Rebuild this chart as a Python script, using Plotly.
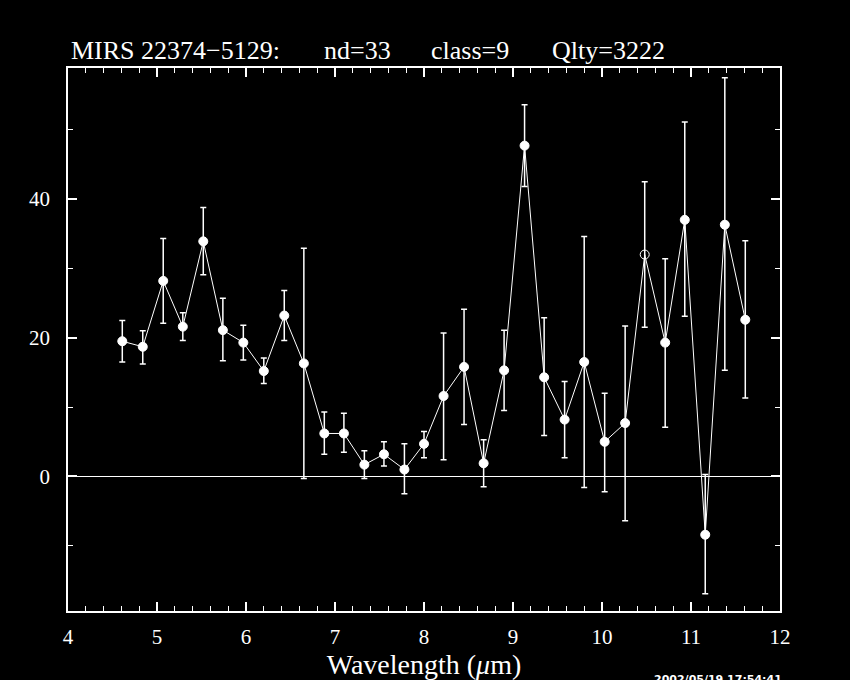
import plotly.graph_objects as go

# ---- data ----
wavelength = [4.61, 4.84, 5.07, 5.29, 5.52, 5.74, 5.97, 6.20, 6.43, 6.65, 6.88, 7.10,
              7.33, 7.55, 7.78, 8.00, 8.22, 8.45, 8.67, 8.90, 9.13, 9.35, 9.58, 9.80,
              10.03, 10.26, 10.48, 10.71, 10.93, 11.16, 11.38, 11.61]
flux = [19.5, 18.7, 28.2, 21.6, 33.9, 21.1, 19.3, 15.2, 23.2, 16.3, 6.2, 6.2,
        1.7, 3.2, 1.0, 4.7, 11.6, 15.8, 1.9, 15.3, 47.7, 14.3, 8.2, 16.5,
        5.0, 7.7, 32.0, 19.3, 37.0, -8.4, 36.3, 22.6]
err_upper = [22.5, 21.0, 34.3, 23.6, 38.8, 25.7, 21.8, 17.1, 26.8, 32.9, 9.3, 9.1,
             3.7, 5.0, 4.7, 6.5, 20.7, 24.1, 5.3, 21.1, 53.6, 22.9, 13.7, 34.6,
             12.0, 21.7, 42.5, 31.4, 51.1, 0.3, 57.5, 34.0]
err_lower = [16.5, 16.2, 22.1, 19.6, 29.1, 16.7, 16.8, 13.4, 19.6, -0.3, 3.2, 3.5,
             -0.3, 1.5, -2.5, 2.7, 2.4, 7.5, -1.5, 9.5, 41.8, 5.9, 2.7, -1.6,
             -2.2, -6.4, 21.5, 7.1, 23.1, -16.9, 15.3, 11.3]
open_points = [10.48]  # drawn as an open circle

x_tick_vals = [4, 5, 6, 7, 8, 9, 10, 11, 12]
y_tick_vals = [0, 20, 40]

title_parts = ["MIRS 22374\u22125129:", "nd=33", "class=9", "Qlty=3222"]
x_title = "Wavelength (<i>\u03bc</i>m)"
timestamp = "2002/05/19 17:54:41"

# ---- figure ----
ep = [u - f for u, f in zip(err_upper, flux)]
em = [f - l for f, l in zip(flux, err_lower)]
symbols = ["circle-open" if w in open_points else "circle" for w in wavelength]

fig = go.Figure()
fig.add_trace(go.Scatter(
    x=wavelength, y=flux, mode="lines+markers",
    line=dict(color="white", width=1),
    marker=dict(color="white", size=9, symbol=symbols, line=dict(color="white", width=1)),
    error_y=dict(type="data", array=ep, arrayminus=em, color="white",
                 thickness=1.5, width=3, visible=True),
    showlegend=False,
))

W, H = 850, 680
L, R, T, B = 68, 70, 68, 69
pw, ph = W - L - R, H - T - B

def px(xp):
    return (xp - L) / pw

def py(yp):
    return (H - B - yp) / ph

serif = "Liberation Serif"
axis_common = dict(
    showline=True, linecolor="white", linewidth=1.5, mirror="allticks",
    ticks="inside", tickcolor="white", tickwidth=1.5, showgrid=False,
    automargin=False,
    tickfont=dict(family=serif, size=21, color="white"),
)
fig.update_xaxes(range=[4, 12], tickvals=x_tick_vals, ticklen=9,
                 minor=dict(dtick=0.2, tick0=4, ticklen=5, ticks="inside",
                            tickcolor="white", tickwidth=1, showgrid=False),
                 zeroline=False, ticklabelstandoff=6,
                 title=dict(text=x_title, font=dict(family=serif, size=28, color="white"),
                            standoff=0),
                 **axis_common)
fig.update_yaxes(range=[-19.4, 58.9], tickvals=y_tick_vals, ticklen=9,
                 minor=dict(dtick=10, tick0=0, ticklen=5, ticks="inside",
                            tickcolor="white", tickwidth=1, showgrid=False),
                 zeroline=True, zerolinecolor="white", zerolinewidth=1,
                 ticklabelstandoff=12,
                 **axis_common)

annotations = []
title_x = [69, 322, 429, 550]
for t, xp in zip(title_parts, title_x):
    annotations.append(dict(text=t, x=px(xp), y=py(50), xref="paper", yref="paper",
                            xanchor="left", yanchor="middle", showarrow=False,
                            font=dict(family=serif, size=26, color="white")))
annotations.append(dict(text="<b>" + timestamp + "</b>", x=px(652), y=py(671), xref="paper",
                        yref="paper", xanchor="left", yanchor="top", showarrow=False,
                        font=dict(family="DejaVu Sans", size=11, color="white")))

fig.update_layout(
    width=W, height=H,
    margin=dict(l=L, r=R, t=T, b=B, pad=0),
    paper_bgcolor="black", plot_bgcolor="black",
    annotations=annotations,
)

fig.write_html(
    "out.html",
    config={"displayModeBar": False},
    post_script="document.body.style.margin='0';document.body.style.background='black';"
                "document.body.style.overflow='hidden';",
)
